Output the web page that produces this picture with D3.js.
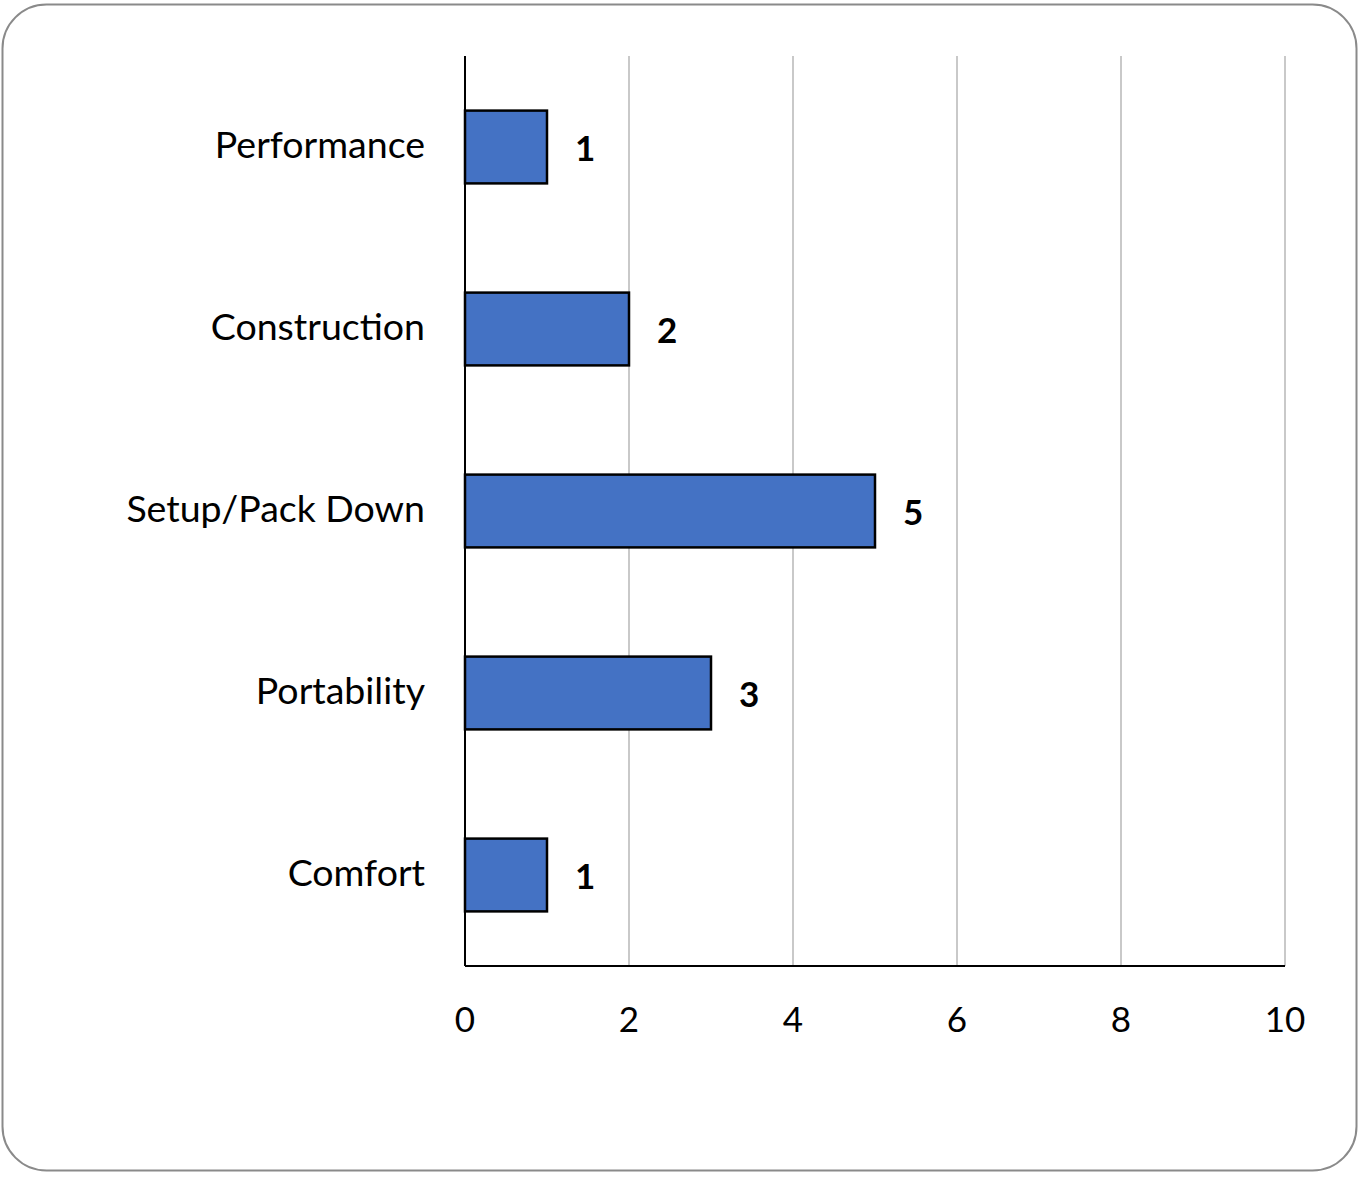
<!DOCTYPE html>
<html>
<head>
<meta charset="utf-8">
<script src="https://cdn.jsdelivr.net/npm/d3@7"></script>
<style>
  body { margin: 0; background: #fff; }
  text { font-family: Lato, "Open Sans", sans-serif; }
</style>
</head>
<body>
<div id="chart"></div>
<script>
// Data
const categories = ["Performance", "Construction", "Setup/Pack Down", "Portability", "Comfort"];
const values = [1, 2, 5, 3, 1];
const xTicks = [0, 2, 4, 6, 8, 10];

const width = 1365, height = 1177;
const plot = { left: 465, right: 1285, top: 56, bottom: 966 };

const svg = d3.select("#chart").append("svg")
    .attr("width", width)
    .attr("height", height);

// Rounded frame
svg.append("rect")
    .attr("x", 2.5).attr("y", 4.5)
    .attr("width", 1354).attr("height", 1166)
    .attr("rx", 44).attr("ry", 44)
    .attr("fill", "#fff")
    .attr("stroke", "#8a8a8a")
    .attr("stroke-width", 2);

const x = d3.scaleLinear().domain([0, 10]).range([plot.left, plot.right]);
const y = d3.scaleBand().domain(categories)
    .range([plot.top, plot.bottom])
    .paddingInner(0.6).paddingOuter(0.3);

// Gridlines
svg.append("g")
    .selectAll("line")
    .data(xTicks.slice(1))
    .join("line")
    .attr("x1", d => x(d)).attr("x2", d => x(d))
    .attr("y1", plot.top).attr("y2", plot.bottom)
    .attr("stroke", "#c9c9c9")
    .attr("stroke-width", 2);

// Bars
svg.append("g")
    .selectAll("rect")
    .data(categories)
    .join("rect")
    .attr("x", x(0))
    .attr("y", d => y(d))
    .attr("width", (d, i) => x(values[i]) - x(0))
    .attr("height", y.bandwidth())
    .attr("fill", "#4472C4")
    .attr("stroke", "#000")
    .attr("stroke-width", 2.5);

// Value labels
svg.append("g")
    .selectAll("text")
    .data(categories)
    .join("text")
    .attr("x", (d, i) => x(values[i]) + 28)
    .attr("y", d => y(d) + y.bandwidth() / 2 + 14)
    .attr("font-size", 35)
    .attr("font-weight", "bold")
    .attr("fill", "#000")
    .text((d, i) => values[i]);

// Category labels
svg.append("g")
    .selectAll("text")
    .data(categories)
    .join("text")
    .attr("x", 425)
    .attr("y", d => y(d) + y.bandwidth() / 2 + 11)
    .attr("text-anchor", "end")
    .attr("font-size", 37.5)
    .attr("fill", "#000")
    .text(d => d);

// Axes lines
svg.append("line")
    .attr("x1", plot.left).attr("x2", plot.left)
    .attr("y1", plot.top).attr("y2", plot.bottom)
    .attr("stroke", "#000").attr("stroke-width", 2);
svg.append("line")
    .attr("x1", plot.left).attr("x2", plot.right)
    .attr("y1", plot.bottom).attr("y2", plot.bottom)
    .attr("stroke", "#000").attr("stroke-width", 2);

// X tick labels
svg.append("g")
    .selectAll("text")
    .data(xTicks)
    .join("text")
    .attr("x", d => x(d))
    .attr("y", 1032)
    .attr("text-anchor", "middle")
    .attr("font-size", 35)
    .attr("fill", "#000")
    .text(d => d);
</script>
</body>
</html>
